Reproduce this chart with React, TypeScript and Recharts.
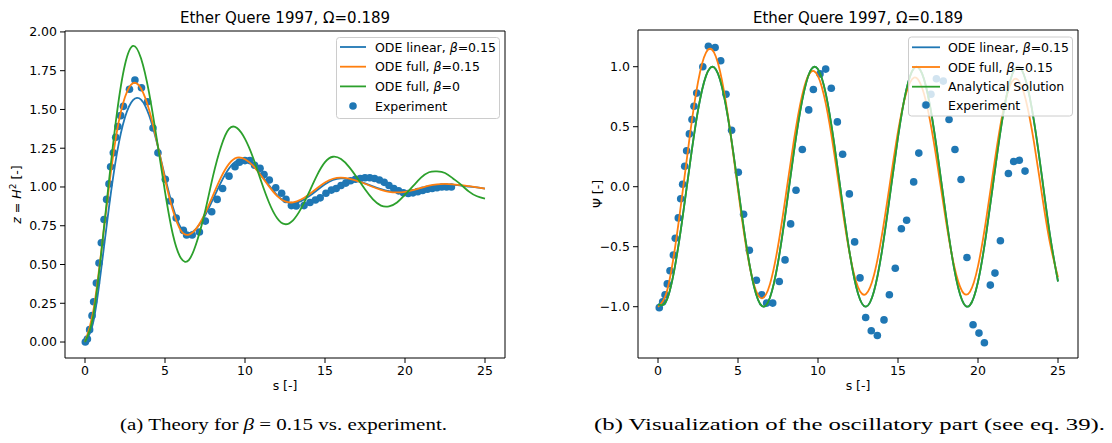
import React from 'react';
import { ComposedChart, Line, Scatter, XAxis, YAxis, ReferenceArea } from 'recharts';

// ---------- data ----------
const S_GRID = [0, 0.5, 1, 1.5, 2, 2.5, 3, 3.5, 4, 4.5, 5, 5.5, 6, 6.5, 7, 7.5, 8, 8.5, 9, 9.5, 10, 10.5, 11, 11.5, 12, 12.5, 13, 13.5, 14, 14.5, 15, 15.5, 16, 16.5, 17, 17.5, 18, 18.5, 19, 19.5, 20, 20.5, 21, 21.5, 22, 22.5, 23, 23.5, 24, 24.5, 25];

// left panel: z = H^2
const Z_LINEAR = [0.0, 0.12, 0.46, 0.87, 1.22, 1.45, 1.56, 1.564, 1.464, 1.283, 1.066, 0.867, 0.735, 0.701, 0.737, 0.815, 0.921, 1.03, 1.119, 1.168, 1.171, 1.138, 1.08, 1.011, 0.948, 0.906, 0.896, 0.909, 0.94, 0.979, 1.017, 1.045, 1.055, 1.051, 1.039, 1.023, 1.004, 0.987, 0.974, 0.968, 0.97, 0.978, 0.99, 1.002, 1.011, 1.015, 1.013, 1.009, 1.003, 0.997, 0.99];
const Z_FULL = [0.0, 0.19, 0.57, 1.0, 1.36, 1.58, 1.67, 1.635, 1.5, 1.29, 1.05, 0.846, 0.718, 0.693, 0.738, 0.829, 0.946, 1.062, 1.149, 1.189, 1.179, 1.137, 1.074, 1.004, 0.943, 0.907, 0.901, 0.919, 0.952, 0.992, 1.029, 1.053, 1.06, 1.054, 1.04, 1.021, 1.0, 0.982, 0.969, 0.965, 0.969, 0.98, 0.994, 1.008, 1.017, 1.02, 1.017, 1.012, 1.005, 0.998, 0.99];
const Z_FULL_B0 = [0.0, 0.16, 0.56, 1.04, 1.48, 1.79, 1.91, 1.83, 1.61, 1.3, 0.97, 0.69, 0.54, 0.53, 0.65, 0.84, 1.07, 1.26, 1.375, 1.38, 1.31, 1.19, 1.04, 0.9, 0.8, 0.76, 0.785, 0.86, 0.965, 1.075, 1.16, 1.195, 1.18, 1.13, 1.06, 0.985, 0.92, 0.88, 0.875, 0.9, 0.95, 1.005, 1.06, 1.095, 1.1, 1.09, 1.055, 1.015, 0.97, 0.94, 0.925];

const EXP_Z_S = [0.02, 0.15, 0.29, 0.44, 0.54, 0.71, 0.875, 1.02, 1.19, 1.35, 1.5, 1.6, 1.77, 1.92, 2.06, 2.23, 2.4, 2.78, 3.12, 3.53, 3.91, 4.25, 4.56, 5.02, 5.33, 5.7, 6.15, 6.35, 6.7, 7.15, 7.52, 7.92, 8.26, 8.6, 9.0, 9.375, 9.65, 10.0, 10.3, 10.6, 10.94, 11.19, 11.52, 11.92, 12.29, 12.56, 12.9, 13.2, 13.69, 14.06, 14.4, 14.7, 15.06, 15.4, 15.7, 16.0, 16.3, 16.6, 16.9, 17.2, 17.5, 17.8, 18.1, 18.4, 18.7, 19.0, 19.3, 19.6, 19.9, 20.2, 20.5, 20.8, 21.1, 21.4, 21.7, 22.0, 22.3, 22.6, 22.9];
const EXP_Z = [0.0, 0.02, 0.08, 0.17, 0.26, 0.38, 0.51, 0.64, 0.79, 0.92, 1.02, 1.13, 1.22, 1.32, 1.39, 1.46, 1.52, 1.63, 1.69, 1.64, 1.55, 1.38, 1.22, 1.05, 0.91, 0.8, 0.72, 0.69, 0.69, 0.71, 0.78, 0.84, 0.92, 0.99, 1.07, 1.13, 1.16, 1.17, 1.17, 1.14, 1.12, 1.08, 1.045, 0.995, 0.96, 0.92, 0.88, 0.877, 0.88, 0.9, 0.916, 0.93, 0.96, 0.98, 0.99, 1.01, 1.025, 1.04, 1.05, 1.055, 1.06, 1.06, 1.055, 1.045, 1.03, 1.01, 0.99, 0.975, 0.962, 0.958, 0.962, 0.97, 0.978, 0.985, 0.99, 0.995, 1.0, 1.0, 1.0];

// right panel: Psi
const PSI_LINEAR = [-0.981, -0.957, -0.707, -0.29, 0.195, 0.636, 0.924, 0.995, 0.831, 0.471, 0.0, -0.471, -0.831, -0.995, -0.923, -0.633, -0.191, 0.296, 0.711, 0.959, 0.979, 0.767, 0.369, -0.113, -0.569, -0.89, -1.0, -0.871, -0.534, -0.069, 0.413, 0.795, 0.988, 0.944, 0.675, 0.243, -0.245, -0.674, -0.944, -0.987, -0.792, -0.406, 0.079, 0.545, 0.878, 1.0, 0.878, 0.545, 0.079, -0.406, -0.79];
const PSI_FULL = [-1.0, -0.897, -0.565, -0.083, 0.437, 0.872, 1.118, 1.119, 0.885, 0.473, -0.026, -0.492, -0.818, -0.93, -0.81, -0.496, -0.061, 0.392, 0.757, 0.949, 0.922, 0.684, 0.291, -0.163, -0.572, -0.836, -0.894, -0.736, -0.4, 0.032, 0.458, 0.775, 0.909, 0.827, 0.553, 0.151, -0.287, -0.655, -0.869, -0.875, -0.662, -0.28, 0.173, 0.583, 0.843, 0.89, 0.717, 0.37, -0.067, -0.47, -0.755];
const PSI_ANALYTIC = [-0.981, -0.957, -0.707, -0.29, 0.195, 0.636, 0.924, 0.995, 0.831, 0.471, 0.0, -0.471, -0.831, -0.995, -0.923, -0.633, -0.191, 0.296, 0.711, 0.959, 0.979, 0.767, 0.369, -0.113, -0.569, -0.89, -1.0, -0.871, -0.534, -0.069, 0.413, 0.795, 0.988, 0.944, 0.675, 0.243, -0.245, -0.674, -0.944, -0.987, -0.792, -0.406, 0.079, 0.545, 0.878, 1.0, 0.878, 0.545, 0.079, -0.406, -0.79];

const EXP_PSI_S = [0.08, 0.29, 0.44, 0.58, 0.75, 0.96, 1.08, 1.27, 1.42, 1.54, 1.67, 1.79, 1.96, 2.125, 2.25, 2.42, 2.8, 3.15, 3.57, 3.92, 4.25, 4.6, 5.02, 5.35, 5.71, 6.15, 6.48, 6.79, 7.17, 7.58, 7.94, 8.29, 8.625, 9.02, 9.42, 9.71, 10.125, 10.48, 10.83, 11.21, 11.54, 11.96, 12.29, 12.625, 12.98, 13.33, 13.71, 14.125, 14.46, 14.83, 15.21, 15.54, 15.98, 16.3, 16.7, 17.06, 17.4, 17.83, 18.19, 18.56, 18.94, 19.31, 19.69, 20.06, 20.4, 20.77, 21.06, 21.4, 21.9, 22.23, 22.58, 22.94];
const EXP_PSI = [-1.008, -0.96, -0.9, -0.81, -0.7, -0.57, -0.43, -0.26, -0.1, 0.02, 0.17, 0.3, 0.44, 0.56, 0.67, 0.78, 1.0, 1.17, 1.16, 1.05, 0.77, 0.47, 0.12, -0.23, -0.53, -0.78, -0.9, -0.97, -0.97, -0.79, -0.61, -0.31, -0.03, 0.31, 0.64, 0.81, 0.94, 0.98, 0.82, 0.54, 0.27, -0.06, -0.46, -0.76, -1.09, -1.2, -1.24, -1.11, -0.9, -0.68, -0.35, -0.28, 0.04, 0.28, 0.68, 0.77, 0.9, 0.88, 0.56, 0.31, 0.06, -0.59, -1.15, -1.22, -1.3, -0.82, -0.72, -0.45, 0.11, 0.21, 0.22, 0.13];

const X_TICKS = [0, 5, 10, 15, 20, 25];
const Z_TICKS = [0, 0.25, 0.5, 0.75, 1.0, 1.25, 1.5, 1.75, 2.0];
const PSI_TICKS = [-1.0, -0.5, 0.0, 0.5, 1.0];

const TITLE = 'Ether Quere 1997, \u03A9=0.189';

// ---------- styling ----------
const BLUE = '#1f77b4';
const ORANGE = '#ff7f0e';
const GREEN = '#2ca02c';
const FONT = 'DejaVu Sans';
const X_DOMAIN = [-1.25, 26.25];
const Z_DOMAIN = [-0.103, 2.006];
const PSI_DOMAIN = [-1.4275, 1.306];
const LW = 1.8;

const lineData = (key: string, vals: number[]) => S_GRID.map((s, i) => ({ s, [key]: vals[i] }));
const pointData = (key: string, xs: number[], ys: number[]) => xs.map((s, i) => ({ s, [key]: ys[i] }));

const dot = (p: any) => <circle cx={p.cx} cy={p.cy} r={3.8} fill={BLUE} />;

const tickStyle = { fill: '#000', fontSize: 12.5, fontFamily: FONT };
const fmt2 = (v: number) => (v < 0 ? '\u2212' : '') + Math.abs(v).toFixed(2);
const fmt1 = (v: number) => (v < 0 ? '\u2212' : '') + Math.abs(v).toFixed(1);

function Panel(props: { yKey: string; yDomain: number[]; yTicks: number[]; fmt: (v: number) => string; series: { name: string; vals: number[]; color: string }[]; xs: number[]; ys: number[]; width: number; top: number; right: number; yWidth: number }) {
  const { yKey, yDomain, yTicks, fmt, series, xs, ys, width, top, right, yWidth } = props;
  return (
    <ComposedChart width={width} height={443} margin={{ top, right, bottom: 55, left: 0 }}>
      <XAxis type="number" dataKey="s" domain={X_DOMAIN} ticks={X_TICKS} allowDataOverflow axisLine={false}
        tickLine={{ stroke: '#000' }} tickSize={5} tickMargin={3} tick={tickStyle} height={30} interval={0} />
      <YAxis type="number" dataKey={yKey} domain={yDomain} ticks={yTicks} allowDataOverflow axisLine={false}
        tickLine={{ stroke: '#000' }} tickSize={5} tickMargin={3} tick={tickStyle} width={yWidth} tickFormatter={fmt} interval={0} />
      <Scatter data={pointData(yKey, xs, ys)} fill={BLUE} shape={dot} isAnimationActive={false} zIndex={350} />
      {series.map((sr) => (
        <Line key={sr.name} data={lineData(yKey, sr.vals)} dataKey={yKey} type="natural" stroke={sr.color} strokeWidth={LW}
          dot={false} activeDot={false} isAnimationActive={false} />
      ))}
      <ReferenceArea x1={X_DOMAIN[0]} x2={X_DOMAIN[1]} y1={yDomain[0]} y2={yDomain[1]} fill="none" fillOpacity={0}
        stroke="#000" strokeWidth={1} ifOverflow="visible" />
    </ComposedChart>
  );
}

function LegendBox(props: { x: number; y: number; w: number; h: number; rows: number[]; sx1: number; sx2: number; tx: number; labels: React.ReactNode[] }) {
  const { x, y, w, h, rows, sx1, sx2, tx, labels } = props;
  const colors = [BLUE, ORANGE, GREEN];
  return (
    <g>
      <rect x={x} y={y} width={w} height={h} rx={3} ry={3} fill="#fff" fillOpacity={0.8} stroke="#cccccc" strokeWidth={1} />
      {colors.map((c, i) => (
        <line key={c} x1={sx1} x2={sx2} y1={rows[i]} y2={rows[i]} stroke={c} strokeWidth={LW} />
      ))}
      <circle cx={(sx1 + sx2) / 2} cy={rows[3]} r={3.8} fill={BLUE} />
      {labels.map((l, i) => (
        <text key={i} x={tx} y={rows[i] + 4.5} fontSize={12.5} fontFamily={FONT} fill="#000">{l}</text>
      ))}
    </g>
  );
}

export default function App() {
  const beta = <tspan fontStyle="italic">{'\u03B2'}</tspan>;
  return (
    <div style={{ position: 'absolute', left: 0, top: 0, width: 1112, height: 443, background: '#fff', overflow: 'hidden' }}>
      <div style={{ position: 'absolute', left: 0, top: 0 }}>
        <Panel yKey="z" yDomain={Z_DOMAIN} yTicks={Z_TICKS} fmt={fmt2} width={530} top={31} right={25} yWidth={65}
          series={[{ name: 'lin', vals: Z_LINEAR, color: BLUE }, { name: 'full', vals: Z_FULL, color: ORANGE }, { name: 'b0', vals: Z_FULL_B0, color: GREEN }]}
          xs={EXP_Z_S} ys={EXP_Z} />
      </div>
      <div style={{ position: 'absolute', left: 560, top: 0 }}>
        <Panel yKey="psi" yDomain={PSI_DOMAIN} yTicks={PSI_TICKS} fmt={fmt1} width={540} top={30} right={22} yWidth={78}
          series={[{ name: 'lin', vals: PSI_LINEAR, color: BLUE }, { name: 'full', vals: PSI_FULL, color: ORANGE }, { name: 'an', vals: PSI_ANALYTIC, color: GREEN }]}
          xs={EXP_PSI_S} ys={EXP_PSI} />
      </div>
      <svg width={1112} height={443} style={{ position: 'absolute', left: 0, top: 0, pointerEvents: 'none' }}>
        <text x={285} y={23} textAnchor="middle" fontSize={15} fontFamily={FONT} fill="#000">{TITLE}</text>
        <text x={858} y={23} textAnchor="middle" fontSize={15} fontFamily={FONT} fill="#000">{TITLE}</text>
        <text x={285} y={390} textAnchor="middle" fontSize={12.5} fontFamily={FONT} fill="#000">s [-]</text>
        <text x={858} y={390} textAnchor="middle" fontSize={12.5} fontFamily={FONT} fill="#000">s [-]</text>
        <text transform="translate(21,194.5) rotate(-90)" textAnchor="middle" fontSize={12.5} fontFamily={FONT} fill="#000">
          <tspan fontStyle="italic">z</tspan> = <tspan fontStyle="italic">H</tspan><tspan fontSize={9} dy={-5}>2</tspan><tspan dy={5}> [-]</tspan>
        </text>
        <text transform="translate(602,194) rotate(-90)" textAnchor="middle" fontSize={12.5} fontFamily={FONT} fill="#000">{'\u03A8 [-]'}</text>
        <LegendBox x={336.5} y={37.5} w={163} h={81} rows={[47, 66.7, 86.4, 106]} sx1={340} sx2={366} tx={375}
          labels={[<>ODE linear, {beta}=0.15</>, <>ODE full, {beta}=0.15</>, <>ODE full, {beta}=0</>, <>Experiment</>]} />
        <LegendBox x={908.5} y={37} w={164} h={79} rows={[47.3, 67, 86.7, 105]} sx1={912} sx2={940} tx={948}
          labels={[<>ODE linear, {beta}=0.15</>, <>ODE full, {beta}=0.15</>, <>Analytical Solution</>, <>Experiment</>]} />
        <text x={283.5} y={430} textAnchor="middle" fontSize={17.5} fontFamily="Liberation Serif" fill="#000" textLength={327} lengthAdjust="spacingAndGlyphs">
          (a) Theory for <tspan fontStyle="italic">{'\u03B2'}</tspan> = 0.15 vs. experiment.
        </text>
        <text x={849.5} y={430} textAnchor="middle" fontSize={17.5} fontFamily="Liberation Serif" fill="#000" textLength={511} lengthAdjust="spacingAndGlyphs">
          (b) Visualization of the oscillatory part (see eq. 39).
        </text>
      </svg>
    </div>
  );
}
